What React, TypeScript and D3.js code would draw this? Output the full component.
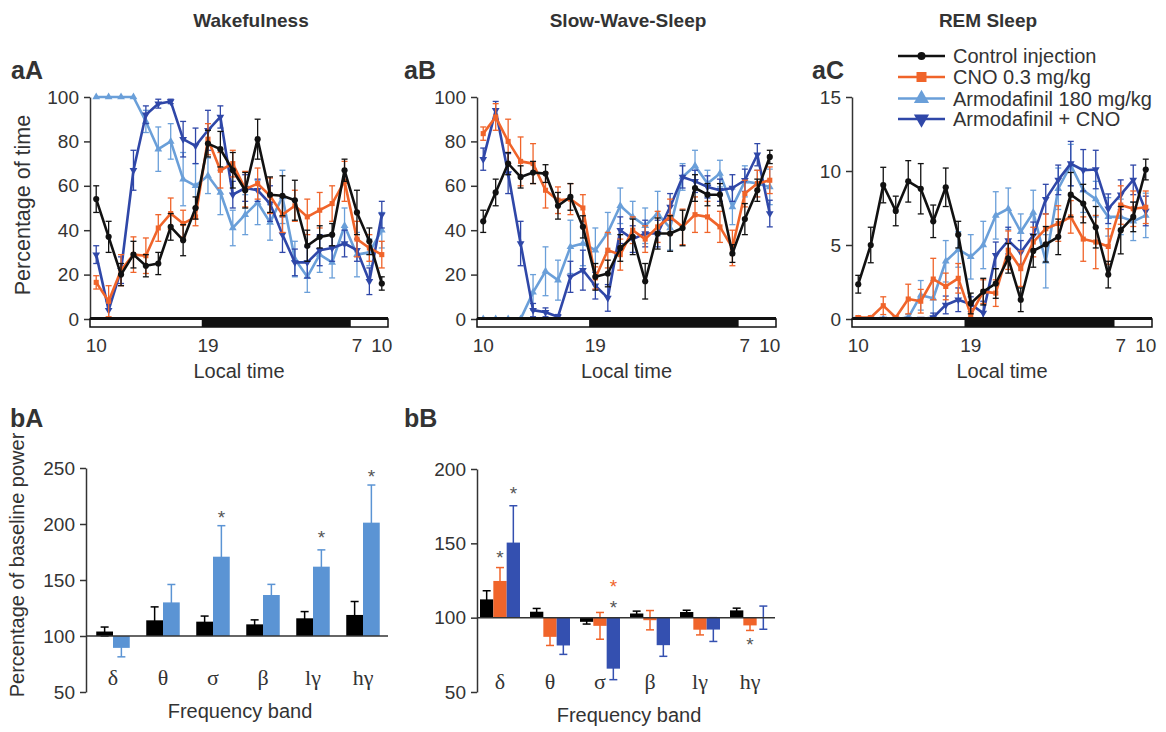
import React, { useEffect, useRef } from "react";
import * as d3 from "d3";

const W = 1166;
const H = 732;
const FONT = "'Liberation Sans', Arial, Helvetica, sans-serif";
const SERIF = "'Liberation Serif', 'Times New Roman', serif";

// hourly bins, starting at 10:00 local time
const hourBins = [10, 11, 12, 13, 14, 15, 16, 17, 18, 19, 20, 21, 22, 23, 0, 1, 2, 3, 4, 5, 6, 7, 8, 9];
const timeTickIdx = [0, 9, 21, 23];
const timeTickLabels = ["10", "19", "7", "10"];
const darkStart = 9; // 19h
const darkEnd = 21; // 7h

const seriesNames = ["Control injection", "CNO 0.3 mg/kg", "Armodafinil 180 mg/kg", "Armodafinil + CNO"];
const seriesColors = ["#111111", "#f0642a", "#6a9fd9", "#2f47a8"];

// Wakefulness (% of time)
const wakeCtl = [54, 37, 20, 29, 24, 25, 41.5, 35.5, 50, 79, 76.5, 67, 58, 81, 56, 55.5, 53.5, 33, 37, 38, 67, 48, 35, 16];
const wakeCtlErr = [6, 7, 5, 6, 5, 5, 6, 7, 5, 6, 8, 8, 8, 9, 8, 9, 9, 7, 5, 5, 5, 10, 6, 3];
const wakeCno = [16.5, 8, 22, 29, 28.5, 41, 47.5, 43, 46, 81, 67, 70, 58.5, 61, 55.5, 47, 51, 46, 49, 52, 62, 36, 32, 29];
const wakeCnoErr = [3, 7, 7, 8, 8, 6, 7, 6, 4, 7, 8, 6, 8, 7, 8, 8, 7, 8, 8, 8, 9, 8, 6, 6];
const wakeArm = [100, 100, 100, 100, 89, 76.5, 80, 63, 60, 64.5, 57, 41, 47, 52.5, 43.5, 55, 27, 19, 29, 25.5, 42, 29, 30, 40];
const wakeArmErr = [0, 0, 0, 0, 5, 10, 8, 12, 10, 8, 10, 8, 9, 10, 8, 12, 8, 7, 8, 7, 8, 10, 6, 8];
const wakeArmCno = [29, 4, 22, 67, 92, 97, 98, 81, 78, 85, 91, 56, 59, 58, 52, 38, 25.5, 25.5, 31, 32, 34, 31, 17, 47];
const wakeArmCnoErr = [4, 4, 6, 9, 4, 2, 1, 8, 8, 9, 5, 6, 6, 5, 8, 8, 6, 7, 7, 6, 6, 5, 6, 6];

// Slow-wave sleep
const swsCtl = [44, 57, 70, 64, 66, 65.5, 51, 55, 41.5, 19, 20.5, 32, 37, 17, 38.5, 38.5, 41, 59, 56, 56, 29.5, 45, 58, 73];
const swsCtlErr = [5, 6, 5, 5, 5, 4, 6, 6, 5, 6, 6, 6, 8, 8, 7, 8, 8, 6, 5, 5, 4, 7, 5, 3];
const swsCno = [83.5, 91, 80, 71, 70, 58, 53.5, 54, 50, 18.5, 31, 29, 40, 36, 41.5, 46, 41.5, 47, 46, 41.5, 32, 56.5, 61, 62.5];
const swsCnoErr = [3, 6, 10, 11, 9, 8, 6, 7, 6, 5, 8, 7, 6, 6, 7, 8, 8, 8, 7, 7, 8, 6, 6, 6];
const swsArm = [0, 0, 0, 0, 12, 21.5, 17.5, 32.5, 34, 31, 39, 51, 46, 42, 47.5, 41, 64, 69, 61, 65.5, 50.5, 62, 61, 59.5];
const swsArmErr = [0, 0, 0, 0, 8, 11, 9, 12, 10, 10, 9, 8, 7, 8, 10, 10, 6, 7, 6, 6, 8, 7, 6, 8];
const swsArmCno = [72, 94, 65.5, 34, 4, 3, 1, 19, 22, 15, 9.5, 40, 36, 38.5, 38.5, 50.5, 64, 62, 59.5, 58, 59, 62.5, 74, 47.5];
const swsArmCnoErr = [5, 4, 9, 10, 3, 2, 1, 7, 9, 6, 6, 6, 6, 6, 6, 6, 5, 5, 5, 5, 6, 5, 5, 6];

// REM sleep
const remCtl = [2.35, 5, 9.05, 7.3, 9.3, 8.8, 6.6, 8.9, 5.7, 1.05, 1.85, 2.4, 4.1, 1.3, 4.6, 5.05, 5.55, 8.4, 7.8, 6.2, 3.0, 6.0, 6.9, 10.1];
const remCtlErr = [0.6, 1.2, 1.2, 1.0, 1.4, 1.7, 1.1, 1.3, 0.9, 0.7, 0.9, 1.0, 1.0, 0.8, 1.1, 1.2, 1.2, 1.5, 1.3, 1.4, 0.9, 1.6, 1.0, 0.7];
const remCno = [0.1, 0.1, 0.9, 0.1, 1.35, 1.2, 2.7, 2.2, 2.75, 0.3, 1.85, 1.75, 4.65, 3.4, 5.2, 6.1, 6.45, 6.9, 5.4, 5.2, 4.9, 7.7, 7.45, 7.55];
const remCnoErr = [0.1, 0.1, 0.6, 0.1, 1.0, 0.8, 1.4, 0.9, 1.0, 0.4, 0.8, 0.9, 1.3, 1.2, 1.0, 1.0, 1.2, 1.1, 1.5, 1.8, 1.2, 1.3, 1.2, 1.1];
const remArm = [0, 0, 0, 0, 0.1, 1.6, 1.4, 3.9, 4.7, 4.2, 5.0, 7.0, 7.45, 5.9, 7.2, 3.9, 8.8, 10.4, 8.7, 8.1, 6.9, 6.9, 6.6, 7.0];
const remArmErr = [0, 0, 0, 0, 0.2, 1.0, 1.2, 1.4, 1.2, 1.5, 1.6, 1.6, 1.4, 1.2, 1.5, 1.8, 1.4, 1.4, 1.5, 1.2, 1.3, 1.2, 1.3, 1.5];
const remArmCno = [0, 0, 0, 0, 0, 0, 0.1, 0.95, 1.3, 1.0, 0.4, 4.3, 5.3, 4.5, 5.65, 8.1, 9.4, 10.5, 10.05, 10.1, 7.45, 8.4, 9.4, 7.3];
const remArmCnoErr = [0, 0, 0, 0, 0, 0, 0.3, 0.6, 0.8, 0.5, 0.8, 0.9, 0.9, 0.8, 0.9, 1.0, 1.0, 1.5, 1.4, 1.3, 1.0, 1.0, 1.0, 1.0];

// band power (% of baseline)
const bands = ["δ", "θ", "σ", "β", "lγ", "hγ"];
const wakePowCtl = [104, 114, 112.8, 110.4, 115.8, 118.8];
const wakePowCtlErr = [4, 12, 5, 4, 6, 12];
const wakePowArm = [89.4, 130, 170.8, 136.6, 161.9, 201.2];
const wakePowArmErr = [8, 16, 27.7, 9.5, 15, 33.6];
const swsPowCtl = [112.3, 104, 97.2, 102.8, 103.8, 104.9];
const swsPowCtlErr = [5.8, 2.2, 1.5, 1.6, 1.2, 1.5];
const swsPowCno = [124.7, 87.1, 94.5, 98.3, 91.9, 94.8];
const swsPowCnoErr = [9, 5.8, 9, 6.5, 3.5, 3.4];
const swsPowArmCno = [150.5, 81.3, 65.7, 81.5, 92, 100];
const swsPowArmCnoErr = [24.8, 6, 7.4, 7.5, 8, 7.8];

// significance stars: band, bar index, value position, colour
const wakeStars = [
  { band: "σ", bar: 1, v: 210, c: "#555" },
  { band: "lγ", bar: 1, v: 191.7, c: "#555" },
  { band: "hγ", bar: 1, v: 246, c: "#555" },
];
const swsStars = [
  { band: "δ", bar: 1, v: 143.8, c: "#555" },
  { band: "δ", bar: 2, v: 186.7, c: "#555" },
  { band: "σ", bar: 2, v: 124.2, c: "#f0642a" },
  { band: "σ", bar: 2, v: 110, c: "#555" },
  { band: "hγ", bar: 1, v: 84.7, c: "#555" },
];

const Y0 = 319;
const YT = 97;

function styleAxis(ax: any) {
  ax.select(".domain").attr("stroke", "#333").attr("stroke-width", 1.5);
  ax.selectAll(".tick line").attr("stroke", "#333").attr("stroke-width", 1.5);
  ax.selectAll(".tick text").attr("fill", "#333").attr("font-size", 19).attr("font-family", FONT);
}

function marker(sel: any, si: number, size: number) {
  const c = seriesColors[si];
  if (si === 0) {
    sel.append("circle").attr("r", Math.sqrt(size / Math.PI)).attr("fill", c);
  } else if (si === 1) {
    sel.append("path").attr("d", d3.symbol(d3.symbolSquare, size)()).attr("fill", c);
  } else if (si === 2) {
    sel.append("path").attr("d", d3.symbol(d3.symbolTriangle, size)()).attr("fill", c);
  } else {
    sel.append("path").attr("d", d3.symbol(d3.symbolTriangle, size)()).attr("transform", "rotate(180)").attr("fill", c);
  }
}

function linePanel(svg: any, p: any) {
  const x = d3.scaleLinear().domain([0, hourBins.length]).range([p.x0, p.x1]);
  const y = d3.scaleLinear().domain([0, p.max]).range([Y0, YT]);
  const g = svg.append("g");

  const ax = g.append("g")
    .attr("transform", `translate(${p.x0},0)`)
    .call(d3.axisLeft(y).tickValues(p.ticks).tickSize(6).tickSizeOuter(0).tickPadding(5));
  styleAxis(ax);

  g.selectAll(".xt").data(timeTickIdx).enter().append("text")
    .attr("x", (d: number) => x(d + 0.5)).attr("y", 352)
    .attr("text-anchor", "middle").attr("font-size", 19).attr("font-family", FONT).attr("fill", "#333")
    .text((d: number, i: number) => timeTickLabels[i]);

  g.append("text").attr("x", (p.x0 + p.x1) / 2).attr("y", 378).attr("text-anchor", "middle")
    .attr("font-size", 20).attr("font-family", FONT).attr("fill", "#333").text("Local time");

  [2, 3, 1, 0].forEach((si) => {
    const vals: number[] = p.values[si];
    const errs: number[] = p.errors[si];
    const c = seriesColors[si];
    const eb = g.append("g");
    vals.forEach((v, i) => {
      const e = errs[i];
      if (!e) return;
      const cx = x(i + 0.5);
      eb.append("line").attr("x1", cx).attr("x2", cx).attr("y1", y(v - e)).attr("y2", y(v + e))
        .attr("stroke", c).attr("stroke-width", 1.3);
      [v - e, v + e].forEach((t) => {
        eb.append("line").attr("x1", cx - 3).attr("x2", cx + 3).attr("y1", y(t)).attr("y2", y(t))
          .attr("stroke", c).attr("stroke-width", 1.3);
      });
    });
    const line = d3.line<number>().x((d, i) => x(i + 0.5)).y((d) => y(d));
    g.append("path").datum(vals).attr("d", line).attr("fill", "none").attr("stroke", c)
      .attr("stroke-width", 2.6).attr("stroke-linejoin", "round");
    vals.forEach((v, i) => {
      const m = g.append("g").attr("transform", `translate(${x(i + 0.5)},${y(v)})`);
      marker(m, si, si === 0 ? 30 : 26);
    });
  });

  // light / dark bar, drawn over the zero line
  g.append("rect").attr("x", p.x0).attr("y", Y0).attr("width", p.x1 - p.x0).attr("height", 8)
    .attr("fill", "#fff").attr("stroke", "#111").attr("stroke-width", 1.5);
  g.append("rect").attr("x", x(darkStart)).attr("y", Y0).attr("width", x(darkEnd) - x(darkStart)).attr("height", 8)
    .attr("fill", "#111");
  g.append("line").attr("x1", p.x0).attr("x2", p.x1).attr("y1", Y0 - 0.5).attr("y2", Y0 - 0.5)
    .attr("stroke", "#111").attr("stroke-width", 3);
}

function barPanel(svg: any, p: any) {
  const x = d3.scaleBand<string>().domain(bands).range([p.x0, p.x1]).paddingInner(p.pi).paddingOuter(p.po);
  const xs = d3.scaleBand<number>().domain(d3.range(p.values.length)).range([0, x.bandwidth()]);
  const y = d3.scaleLinear().domain([50, p.max]).range([p.yBot, p.yTop]);
  const g = svg.append("g");

  const ax = g.append("g")
    .attr("transform", `translate(${p.axisX},0)`)
    .call(d3.axisLeft(y).tickValues(p.ticks).tickSize(6).tickSizeOuter(0).tickPadding(5));
  styleAxis(ax);

  p.values.forEach((vals: number[], k: number) => {
    const c = p.colors[k];
    const errs: number[] = p.errors[k];
    vals.forEach((v, i) => {
      const cx = x(bands[i])! + xs(k)! + xs.bandwidth() / 2;
      const e = errs[i];
      g.append("line").attr("x1", cx).attr("x2", cx).attr("y1", y(v - e)).attr("y2", y(v + e))
        .attr("stroke", c).attr("stroke-width", 1.5);
      [v - e, v + e].forEach((t) => {
        g.append("line").attr("x1", cx - 4).attr("x2", cx + 4).attr("y1", y(t)).attr("y2", y(t))
          .attr("stroke", c).attr("stroke-width", 1.5);
      });
    });
    g.selectAll(null).data(vals).enter().append("rect")
      .attr("x", (d: number, i: number) => x(bands[i])! + xs(k)!)
      .attr("width", xs.bandwidth())
      .attr("y", (d: number) => Math.min(y(d), y(100)))
      .attr("height", (d: number) => Math.abs(y(d) - y(100)))
      .attr("fill", c);
  });

  g.append("line").attr("x1", p.axisX).attr("x2", p.x1).attr("y1", y(100)).attr("y2", y(100))
    .attr("stroke", "#333").attr("stroke-width", 1.5);

  p.stars.forEach((s: any) => {
    g.append("text").attr("x", x(s.band)! + xs(s.bar)! + xs.bandwidth() / 2).attr("y", y(s.v) + 11)
      .attr("text-anchor", "middle").attr("font-size", 19).attr("font-family", FONT).attr("fill", s.c).text("*");
  });

  g.selectAll(".bl").data(bands).enter().append("text")
    .attr("x", (d: string) => x(d)! + x.bandwidth() / 2).attr("y", p.labelY)
    .attr("text-anchor", "middle").attr("font-size", 22).attr("font-family", SERIF).attr("fill", "#333")
    .text((d: string) => d);

  g.append("text").attr("x", p.titleX).attr("y", p.labelY + 33).attr("text-anchor", "middle")
    .attr("font-size", 20).attr("font-family", FONT).attr("fill", "#333").text("Frequency band");
}

export default function App() {
  const ref = useRef<SVGSVGElement>(null);

  useEffect(() => {
    const svg = d3.select(ref.current);
    svg.selectAll("*").remove();
    svg.append("rect").attr("width", W).attr("height", H).attr("fill", "#fff");

    const txt = (x: number, y: number, s: string, size: number, bold: boolean, anchor = "start") =>
      svg.append("text").attr("x", x).attr("y", y).attr("font-size", size).attr("font-family", FONT)
        .attr("font-weight", bold ? "bold" : "normal").attr("fill", "#333").attr("text-anchor", anchor).text(s);

    txt(251, 27, "Wakefulness", 19, true, "middle");
    txt(628, 27, "Slow-Wave-Sleep", 19, true, "middle");
    txt(988, 27, "REM Sleep", 19, true, "middle");
    txt(11, 79, "aA", 25, true);
    txt(404, 79, "aB", 25, true);
    txt(812, 79, "aC", 25, true);
    txt(10, 427, "bA", 25, true);
    txt(404, 427, "bB", 25, true);

    svg.append("text").attr("transform", "translate(30,205) rotate(-90)").attr("text-anchor", "middle")
      .attr("font-size", 21.5).attr("font-family", FONT).attr("fill", "#333").text("Percentage of time");
    svg.append("text").attr("transform", "translate(24,565) rotate(-90)").attr("text-anchor", "middle")
      .attr("font-size", 20).attr("font-family", FONT).attr("fill", "#333").text("Percentage of baseline power");

    linePanel(svg, {
      x0: 90, x1: 388, max: 100, ticks: [0, 20, 40, 60, 80, 100],
      values: [wakeCtl, wakeCno, wakeArm, wakeArmCno],
      errors: [wakeCtlErr, wakeCnoErr, wakeArmErr, wakeArmCnoErr],
    });
    linePanel(svg, {
      x0: 477, x1: 776, max: 100, ticks: [0, 20, 40, 60, 80, 100],
      values: [swsCtl, swsCno, swsArm, swsArmCno],
      errors: [swsCtlErr, swsCnoErr, swsArmErr, swsArmCnoErr],
    });
    linePanel(svg, {
      x0: 852, x1: 1152, max: 15, ticks: [0, 5, 10, 15],
      values: [remCtl, remCno, remArm, remArmCno],
      errors: [remCtlErr, remCnoErr, remArmErr, remArmCnoErr],
    });

    barPanel(svg, {
      x0: 88, x1: 388, axisX: 86, pi: 0.33, po: 0.165, yTop: 468, yBot: 692, max: 250,
      ticks: [50, 100, 150, 200, 250],
      values: [wakePowCtl, wakePowArm], errors: [wakePowCtlErr, wakePowArmErr],
      colors: ["#000000", "#5b94d4"], stars: wakeStars, labelY: 685, titleX: 240,
    });
    barPanel(svg, {
      x0: 475, x1: 775, axisX: 477, pi: 0.2, po: 0.1, yTop: 469, yBot: 692, max: 200,
      ticks: [50, 100, 150, 200],
      values: [swsPowCtl, swsPowCno, swsPowArmCno], errors: [swsPowCtlErr, swsPowCnoErr, swsPowArmCnoErr],
      colors: ["#000000", "#f0642a", "#3450b0"], stars: swsStars, labelY: 689, titleX: 629,
    });

    // legend
    const rows = [56, 77, 98.5, 119];
    seriesNames.forEach((name, i) => {
      svg.append("line").attr("x1", 898).attr("x2", 945).attr("y1", rows[i]).attr("y2", rows[i])
        .attr("stroke", seriesColors[i]).attr("stroke-width", 2.6);
      const m = svg.append("g").attr("transform", `translate(921.5,${rows[i]})`);
      marker(m, i, i === 0 ? 50 : 100);
      svg.append("text").attr("x", 953).attr("y", rows[i]).attr("dy", "0.35em")
        .attr("font-size", 20).attr("font-family", FONT).attr("fill", "#333").text(name);
    });
  }, []);

  return (
    <svg ref={ref} width={W} height={H} style={{ position: "absolute", left: 0, top: 0 }} />
  );
}
